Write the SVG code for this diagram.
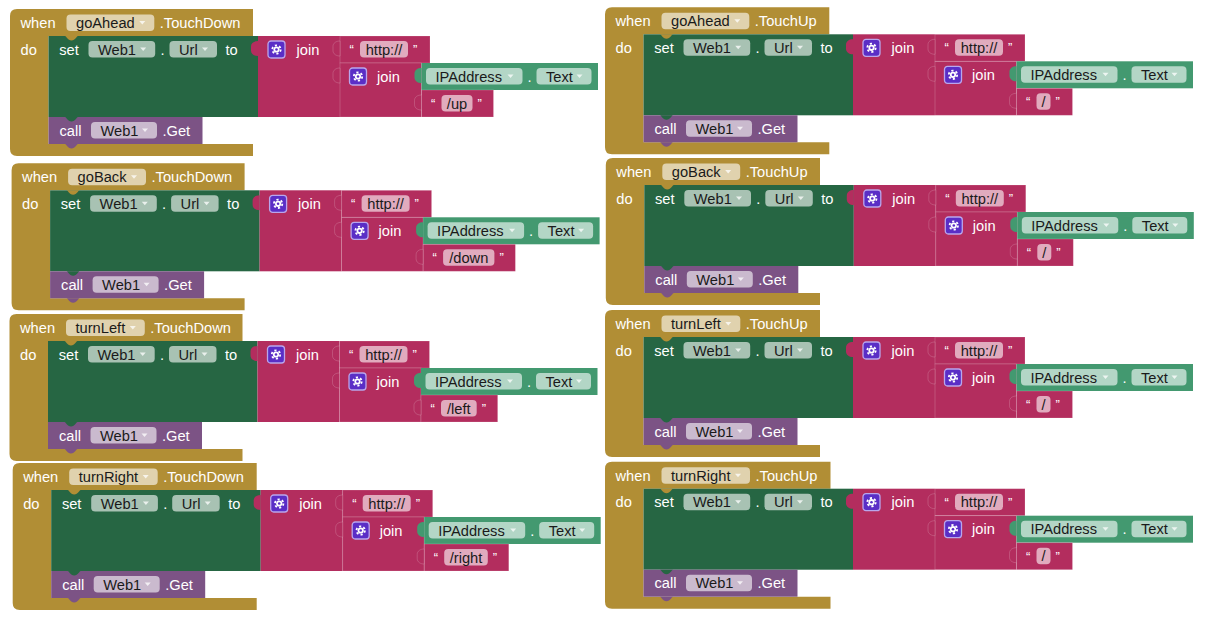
<svg xmlns="http://www.w3.org/2000/svg" xmlns:xlink="http://www.w3.org/1999/xlink" width="1205" height="619" viewBox="0 0 1205 619">
<style>
.ev{fill:#B18E35}.set{fill:#266643}.txt{fill:#B32D5E}.get{fill:#439970}.call{fill:#7C5385}
.pk{stroke:#fff;stroke-opacity:.22;stroke-width:.8}
.f{fill:#fff;fill-opacity:.6}
.l{font-family:"Liberation Sans",Arial,sans-serif;font-size:14.67px;fill:#fff}
.v{font-family:"Liberation Sans",Arial,sans-serif;font-size:14.67px;fill:#1a1a1a}
.q{font-family:"Liberation Sans",Arial,sans-serif;font-size:13px;fill:#fff}
</style>
<defs>
<path id="arr" d="M-3,0h6l-3,3.5z" fill="#fff" fill-opacity=".75"/>
<path id="otab" d="M0,5c-4,0-7,2-7,5.5v4c0,3.5 3,5.5 7,5.5z"/>
<path id="notch" d="M0,0c1.5,0 2.5,4.5 6.5,4.5c4,0 5,-4.5 6.5,-4.5z"/>
<g id="gear">
<rect width="17" height="17" rx="3" fill="#5a2ec6" stroke="#b9a6ec" stroke-width="1.3"/>
<circle cx="8.5" cy="8.5" r="4.2" fill="none" stroke="#fff" stroke-width="1.8" stroke-dasharray="2.2 2.2"/>
<circle cx="8.5" cy="8.5" r="3.1" fill="#fff"/>
<circle cx="8.5" cy="8.5" r="1.3" fill="#5a2ec6"/>
</g>
</defs>
<rect width="1205" height="619" fill="#fff"/>
<g id="connectors"/>

<!-- L1 -->
<g id="goAhead-TouchDown" transform="translate(10,9)">
<path class="ev" d="M0,7Q0,0 7,0H243V27H38.5V135H243V147H7Q0,147 0,140Z"/>
<text class="l" x="10.5" y="19">when</text>
<rect class="f" x="56.5" y="5.5" width="87.8" height="16.5" rx="4"/>
<text class="v" x="66" y="19">goAhead</text>
<use href="#arr" x="132.3" y="12"/>
<text class="l" x="149.8" y="19">.TouchDown</text>
<text class="l" x="10.5" y="45.5">do</text>
<g transform="translate(38.5,27)">
<rect class="set" width="209.5" height="81"/>
<text class="l" x="10.7" y="18.5">set</text>
<rect class="f" x="40" y="5" width="66.7" height="16.5" rx="4"/>
<text class="v" x="49.5" y="18.5">Web1</text>
<use href="#arr" x="94.7" y="11.5"/>
<text class="l" x="112" y="18.5">.</text>
<rect class="f" x="121" y="5" width="47.5" height="16.5" rx="4"/>
<text class="v" x="130.5" y="18.5">Url</text>
<use href="#arr" x="156.5" y="11.5"/>
<text class="l" x="177" y="18.5">to</text>
<g transform="translate(209.5,0)">
<rect class="txt" width="82" height="81"/>
<use href="#otab" class="txt"/>
<use href="#gear" x="10" y="5"/>
<text class="l" x="38.5" y="18.5">join</text>
<g transform="translate(82,0)">
<rect class="txt pk" width="90" height="27"/>
<use href="#otab" class="txt pk"/>
<text class="q" x="9.5" y="18">“</text>
<rect class="f" x="20" y="5" width="48" height="16.5" rx="4"/>
<text class="v" x="44" y="18.5" text-anchor="middle">http://</text>
<text class="q" x="73" y="18">”</text>
</g>
<g transform="translate(82,27)">
<rect class="txt pk" width="81.5" height="54"/>
<use href="#otab" class="txt pk"/>
<use href="#gear" x="9.5" y="5"/>
<text class="l" x="37" y="18.5">join</text>
<g transform="translate(81.5,0)">
<rect class="get" width="176.5" height="27"/>
<use href="#otab" class="get"/>
<rect class="f" x="4.5" y="5" width="96.5" height="16.5" rx="4"/>
<text class="v" x="14" y="18.5">IPAddress</text>
<use href="#arr" x="89" y="11.5"/>
<text class="l" x="106" y="18.5">.</text>
<rect class="f" x="115" y="5" width="55" height="16.5" rx="4"/>
<text class="v" x="124.5" y="18.5">Text</text>
<use href="#arr" x="158" y="11.5"/>
</g>
<g transform="translate(81.5,27)">
<rect class="txt pk" width="72" height="27"/>
<use href="#otab" class="txt pk"/>
<text class="q" x="9.5" y="18">“</text>
<rect class="f" x="20" y="5" width="31" height="16.5" rx="4"/>
<text class="v" x="35.5" y="18.5" text-anchor="middle">/up</text>
<text class="q" x="56" y="18">”</text>
</g>
</g>
</g>
<use href="#notch" class="ev" x="16.5" y="0"/>
</g>
<g transform="translate(38.5,108)">
<rect class="call" width="154" height="27"/>
<use href="#notch" class="set" x="16.5" y="0"/>
<text class="l" x="11" y="18.5">call</text>
<rect class="f" x="42.5" y="5" width="66" height="16.5" rx="4"/>
<text class="v" x="52" y="18.5">Web1</text>
<use href="#arr" x="96.5" y="11.5"/>
<text class="l" x="114" y="18.5">.Get</text>
</g>
<use href="#notch" class="call" x="55" y="135"/>
</g>

<!-- L2 -->
<g id="goBack-TouchDown" transform="translate(11.6,163.3)">
<path class="ev" d="M0,7Q0,0 7,0H233V27H38.5V135H233V147H7Q0,147 0,140Z"/>
<text class="l" x="10.5" y="19">when</text>
<rect class="f" x="56.5" y="5.5" width="77.9" height="16.5" rx="4"/>
<text class="v" x="66" y="19">goBack</text>
<use href="#arr" x="122.4" y="12"/>
<text class="l" x="139.9" y="19">.TouchDown</text>
<text class="l" x="10.5" y="45.5">do</text>
<g transform="translate(38.5,27)">
<rect class="set" width="209.5" height="81"/>
<text class="l" x="10.7" y="18.5">set</text>
<rect class="f" x="40" y="5" width="66.7" height="16.5" rx="4"/>
<text class="v" x="49.5" y="18.5">Web1</text>
<use href="#arr" x="94.7" y="11.5"/>
<text class="l" x="112" y="18.5">.</text>
<rect class="f" x="121" y="5" width="47.5" height="16.5" rx="4"/>
<text class="v" x="130.5" y="18.5">Url</text>
<use href="#arr" x="156.5" y="11.5"/>
<text class="l" x="177" y="18.5">to</text>
<g transform="translate(209.5,0)">
<rect class="txt" width="82" height="81"/>
<use href="#otab" class="txt"/>
<use href="#gear" x="10" y="5"/>
<text class="l" x="38.5" y="18.5">join</text>
<g transform="translate(82,0)">
<rect class="txt pk" width="90" height="27"/>
<use href="#otab" class="txt pk"/>
<text class="q" x="9.5" y="18">“</text>
<rect class="f" x="20" y="5" width="48" height="16.5" rx="4"/>
<text class="v" x="44" y="18.5" text-anchor="middle">http://</text>
<text class="q" x="73" y="18">”</text>
</g>
<g transform="translate(82,27)">
<rect class="txt pk" width="81.5" height="54"/>
<use href="#otab" class="txt pk"/>
<use href="#gear" x="9.5" y="5"/>
<text class="l" x="37" y="18.5">join</text>
<g transform="translate(81.5,0)">
<rect class="get" width="176.5" height="27"/>
<use href="#otab" class="get"/>
<rect class="f" x="4.5" y="5" width="96.5" height="16.5" rx="4"/>
<text class="v" x="14" y="18.5">IPAddress</text>
<use href="#arr" x="89" y="11.5"/>
<text class="l" x="106" y="18.5">.</text>
<rect class="f" x="115" y="5" width="55" height="16.5" rx="4"/>
<text class="v" x="124.5" y="18.5">Text</text>
<use href="#arr" x="158" y="11.5"/>
</g>
<g transform="translate(81.5,27)">
<rect class="txt pk" width="92.3" height="27"/>
<use href="#otab" class="txt pk"/>
<text class="q" x="9.5" y="18">“</text>
<rect class="f" x="20" y="5" width="51.3" height="16.5" rx="4"/>
<text class="v" x="45.65" y="18.5" text-anchor="middle">/down</text>
<text class="q" x="76.3" y="18">”</text>
</g>
</g>
</g>
<use href="#notch" class="ev" x="16.5" y="0"/>
</g>
<g transform="translate(38.5,108)">
<rect class="call" width="154" height="27"/>
<use href="#notch" class="set" x="16.5" y="0"/>
<text class="l" x="11" y="18.5">call</text>
<rect class="f" x="42.5" y="5" width="66" height="16.5" rx="4"/>
<text class="v" x="52" y="18.5">Web1</text>
<use href="#arr" x="96.5" y="11.5"/>
<text class="l" x="114" y="18.5">.Get</text>
</g>
<use href="#notch" class="call" x="55" y="135"/>
</g>

<!-- L3 -->
<g id="turnLeft-TouchDown" transform="translate(9.5,314)">
<path class="ev" d="M0,7Q0,0 7,0H233V27H38.5V135H233V147H7Q0,147 0,140Z"/>
<text class="l" x="10.5" y="19">when</text>
<rect class="f" x="56.5" y="5.5" width="78.8" height="16.5" rx="4"/>
<text class="v" x="66" y="19">turnLeft</text>
<use href="#arr" x="123.3" y="12"/>
<text class="l" x="140.8" y="19">.TouchDown</text>
<text class="l" x="10.5" y="45.5">do</text>
<g transform="translate(38.5,27)">
<rect class="set" width="209.5" height="81"/>
<text class="l" x="10.7" y="18.5">set</text>
<rect class="f" x="40" y="5" width="66.7" height="16.5" rx="4"/>
<text class="v" x="49.5" y="18.5">Web1</text>
<use href="#arr" x="94.7" y="11.5"/>
<text class="l" x="112" y="18.5">.</text>
<rect class="f" x="121" y="5" width="47.5" height="16.5" rx="4"/>
<text class="v" x="130.5" y="18.5">Url</text>
<use href="#arr" x="156.5" y="11.5"/>
<text class="l" x="177" y="18.5">to</text>
<g transform="translate(209.5,0)">
<rect class="txt" width="82" height="81"/>
<use href="#otab" class="txt"/>
<use href="#gear" x="10" y="5"/>
<text class="l" x="38.5" y="18.5">join</text>
<g transform="translate(82,0)">
<rect class="txt pk" width="90" height="27"/>
<use href="#otab" class="txt pk"/>
<text class="q" x="9.5" y="18">“</text>
<rect class="f" x="20" y="5" width="48" height="16.5" rx="4"/>
<text class="v" x="44" y="18.5" text-anchor="middle">http://</text>
<text class="q" x="73" y="18">”</text>
</g>
<g transform="translate(82,27)">
<rect class="txt pk" width="81.5" height="54"/>
<use href="#otab" class="txt pk"/>
<use href="#gear" x="9.5" y="5"/>
<text class="l" x="37" y="18.5">join</text>
<g transform="translate(81.5,0)">
<rect class="get" width="176.5" height="27"/>
<use href="#otab" class="get"/>
<rect class="f" x="4.5" y="5" width="96.5" height="16.5" rx="4"/>
<text class="v" x="14" y="18.5">IPAddress</text>
<use href="#arr" x="89" y="11.5"/>
<text class="l" x="106" y="18.5">.</text>
<rect class="f" x="115" y="5" width="55" height="16.5" rx="4"/>
<text class="v" x="124.5" y="18.5">Text</text>
<use href="#arr" x="158" y="11.5"/>
</g>
<g transform="translate(81.5,27)">
<rect class="txt pk" width="76.7" height="27"/>
<use href="#otab" class="txt pk"/>
<text class="q" x="9.5" y="18">“</text>
<rect class="f" x="20" y="5" width="35.7" height="16.5" rx="4"/>
<text class="v" x="37.85" y="18.5" text-anchor="middle">/left</text>
<text class="q" x="60.7" y="18">”</text>
</g>
</g>
</g>
<use href="#notch" class="ev" x="16.5" y="0"/>
</g>
<g transform="translate(38.5,108)">
<rect class="call" width="154" height="27"/>
<use href="#notch" class="set" x="16.5" y="0"/>
<text class="l" x="11" y="18.5">call</text>
<rect class="f" x="42.5" y="5" width="66" height="16.5" rx="4"/>
<text class="v" x="52" y="18.5">Web1</text>
<use href="#arr" x="96.5" y="11.5"/>
<text class="l" x="114" y="18.5">.Get</text>
</g>
<use href="#notch" class="call" x="55" y="135"/>
</g>

<!-- L4 -->
<g id="turnRight-TouchDown" transform="translate(12.7,463)">
<path class="ev" d="M0,7Q0,0 7,0H244V27H38.5V135H244V147H7Q0,147 0,140Z"/>
<text class="l" x="10.5" y="19">when</text>
<rect class="f" x="56.5" y="5.5" width="88.5" height="16.5" rx="4"/>
<text class="v" x="66" y="19">turnRight</text>
<use href="#arr" x="133" y="12"/>
<text class="l" x="150.5" y="19">.TouchDown</text>
<text class="l" x="10.5" y="45.5">do</text>
<g transform="translate(38.5,27)">
<rect class="set" width="209.5" height="81"/>
<text class="l" x="10.7" y="18.5">set</text>
<rect class="f" x="40" y="5" width="66.7" height="16.5" rx="4"/>
<text class="v" x="49.5" y="18.5">Web1</text>
<use href="#arr" x="94.7" y="11.5"/>
<text class="l" x="112" y="18.5">.</text>
<rect class="f" x="121" y="5" width="47.5" height="16.5" rx="4"/>
<text class="v" x="130.5" y="18.5">Url</text>
<use href="#arr" x="156.5" y="11.5"/>
<text class="l" x="177" y="18.5">to</text>
<g transform="translate(209.5,0)">
<rect class="txt" width="82" height="81"/>
<use href="#otab" class="txt"/>
<use href="#gear" x="10" y="5"/>
<text class="l" x="38.5" y="18.5">join</text>
<g transform="translate(82,0)">
<rect class="txt pk" width="90" height="27"/>
<use href="#otab" class="txt pk"/>
<text class="q" x="9.5" y="18">“</text>
<rect class="f" x="20" y="5" width="48" height="16.5" rx="4"/>
<text class="v" x="44" y="18.5" text-anchor="middle">http://</text>
<text class="q" x="73" y="18">”</text>
</g>
<g transform="translate(82,27)">
<rect class="txt pk" width="81.5" height="54"/>
<use href="#otab" class="txt pk"/>
<use href="#gear" x="9.5" y="5"/>
<text class="l" x="37" y="18.5">join</text>
<g transform="translate(81.5,0)">
<rect class="get" width="176.5" height="27"/>
<use href="#otab" class="get"/>
<rect class="f" x="4.5" y="5" width="96.5" height="16.5" rx="4"/>
<text class="v" x="14" y="18.5">IPAddress</text>
<use href="#arr" x="89" y="11.5"/>
<text class="l" x="106" y="18.5">.</text>
<rect class="f" x="115" y="5" width="55" height="16.5" rx="4"/>
<text class="v" x="124.5" y="18.5">Text</text>
<use href="#arr" x="158" y="11.5"/>
</g>
<g transform="translate(81.5,27)">
<rect class="txt pk" width="84.6" height="27"/>
<use href="#otab" class="txt pk"/>
<text class="q" x="9.5" y="18">“</text>
<rect class="f" x="20" y="5" width="43.6" height="16.5" rx="4"/>
<text class="v" x="41.8" y="18.5" text-anchor="middle">/right</text>
<text class="q" x="68.6" y="18">”</text>
</g>
</g>
</g>
<use href="#notch" class="ev" x="16.5" y="0"/>
</g>
<g transform="translate(38.5,108)">
<rect class="call" width="154" height="27"/>
<use href="#notch" class="set" x="16.5" y="0"/>
<text class="l" x="11" y="18.5">call</text>
<rect class="f" x="42.5" y="5" width="66" height="16.5" rx="4"/>
<text class="v" x="52" y="18.5">Web1</text>
<use href="#arr" x="96.5" y="11.5"/>
<text class="l" x="114" y="18.5">.Get</text>
</g>
<use href="#notch" class="call" x="55" y="135"/>
</g>

<!-- R1 -->
<g id="goAhead-TouchUp" transform="translate(605,7.3)">
<path class="ev" d="M0,7Q0,0 7,0H224.3V27H38.5V135H224.3V147H7Q0,147 0,140Z"/>
<text class="l" x="10.5" y="19">when</text>
<rect class="f" x="56.5" y="5.5" width="87.8" height="16.5" rx="4"/>
<text class="v" x="66" y="19">goAhead</text>
<use href="#arr" x="132.3" y="12"/>
<text class="l" x="149.8" y="19">.TouchUp</text>
<text class="l" x="10.5" y="45.5">do</text>
<g transform="translate(38.5,27)">
<rect class="set" width="209.5" height="81"/>
<text class="l" x="10.7" y="18.5">set</text>
<rect class="f" x="40" y="5" width="66.7" height="16.5" rx="4"/>
<text class="v" x="49.5" y="18.5">Web1</text>
<use href="#arr" x="94.7" y="11.5"/>
<text class="l" x="112" y="18.5">.</text>
<rect class="f" x="121" y="5" width="47.5" height="16.5" rx="4"/>
<text class="v" x="130.5" y="18.5">Url</text>
<use href="#arr" x="156.5" y="11.5"/>
<text class="l" x="177" y="18.5">to</text>
<g transform="translate(209.5,0)">
<rect class="txt" width="82" height="81"/>
<use href="#otab" class="txt"/>
<use href="#gear" x="10" y="5"/>
<text class="l" x="38.5" y="18.5">join</text>
<g transform="translate(82,0)">
<rect class="txt pk" width="90" height="27"/>
<use href="#otab" class="txt pk"/>
<text class="q" x="9.5" y="18">“</text>
<rect class="f" x="20" y="5" width="48" height="16.5" rx="4"/>
<text class="v" x="44" y="18.5" text-anchor="middle">http://</text>
<text class="q" x="73" y="18">”</text>
</g>
<g transform="translate(82,27)">
<rect class="txt pk" width="81.5" height="54"/>
<use href="#otab" class="txt pk"/>
<use href="#gear" x="9.5" y="5"/>
<text class="l" x="37" y="18.5">join</text>
<g transform="translate(81.5,0)">
<rect class="get" width="176.5" height="27"/>
<use href="#otab" class="get"/>
<rect class="f" x="4.5" y="5" width="96.5" height="16.5" rx="4"/>
<text class="v" x="14" y="18.5">IPAddress</text>
<use href="#arr" x="89" y="11.5"/>
<text class="l" x="106" y="18.5">.</text>
<rect class="f" x="115" y="5" width="55" height="16.5" rx="4"/>
<text class="v" x="124.5" y="18.5">Text</text>
<use href="#arr" x="158" y="11.5"/>
</g>
<g transform="translate(81.5,27)">
<rect class="txt pk" width="56" height="27"/>
<use href="#otab" class="txt pk"/>
<text class="q" x="9.5" y="18">“</text>
<rect class="f" x="20" y="5" width="14" height="16.5" rx="4"/>
<text class="v" x="27" y="18.5" text-anchor="middle">/</text>
<text class="q" x="39" y="18">”</text>
</g>
</g>
</g>
<use href="#notch" class="ev" x="16.5" y="0"/>
</g>
<g transform="translate(38.5,108)">
<rect class="call" width="154" height="27"/>
<use href="#notch" class="set" x="16.5" y="0"/>
<text class="l" x="11" y="18.5">call</text>
<rect class="f" x="42.5" y="5" width="66" height="16.5" rx="4"/>
<text class="v" x="52" y="18.5">Web1</text>
<use href="#arr" x="96.5" y="11.5"/>
<text class="l" x="114" y="18.5">.Get</text>
</g>
<use href="#notch" class="call" x="55" y="135"/>
</g>

<!-- R2 -->
<g id="goBack-TouchUp" transform="translate(605.8,158)">
<path class="ev" d="M0,7Q0,0 7,0H214.2V27H38.5V135H214.2V147H7Q0,147 0,140Z"/>
<text class="l" x="10.5" y="19">when</text>
<rect class="f" x="56.5" y="5.5" width="77.9" height="16.5" rx="4"/>
<text class="v" x="66" y="19">goBack</text>
<use href="#arr" x="122.4" y="12"/>
<text class="l" x="139.9" y="19">.TouchUp</text>
<text class="l" x="10.5" y="45.5">do</text>
<g transform="translate(38.5,27)">
<rect class="set" width="209.5" height="81"/>
<text class="l" x="10.7" y="18.5">set</text>
<rect class="f" x="40" y="5" width="66.7" height="16.5" rx="4"/>
<text class="v" x="49.5" y="18.5">Web1</text>
<use href="#arr" x="94.7" y="11.5"/>
<text class="l" x="112" y="18.5">.</text>
<rect class="f" x="121" y="5" width="47.5" height="16.5" rx="4"/>
<text class="v" x="130.5" y="18.5">Url</text>
<use href="#arr" x="156.5" y="11.5"/>
<text class="l" x="177" y="18.5">to</text>
<g transform="translate(209.5,0)">
<rect class="txt" width="82" height="81"/>
<use href="#otab" class="txt"/>
<use href="#gear" x="10" y="5"/>
<text class="l" x="38.5" y="18.5">join</text>
<g transform="translate(82,0)">
<rect class="txt pk" width="90" height="27"/>
<use href="#otab" class="txt pk"/>
<text class="q" x="9.5" y="18">“</text>
<rect class="f" x="20" y="5" width="48" height="16.5" rx="4"/>
<text class="v" x="44" y="18.5" text-anchor="middle">http://</text>
<text class="q" x="73" y="18">”</text>
</g>
<g transform="translate(82,27)">
<rect class="txt pk" width="81.5" height="54"/>
<use href="#otab" class="txt pk"/>
<use href="#gear" x="9.5" y="5"/>
<text class="l" x="37" y="18.5">join</text>
<g transform="translate(81.5,0)">
<rect class="get" width="176.5" height="27"/>
<use href="#otab" class="get"/>
<rect class="f" x="4.5" y="5" width="96.5" height="16.5" rx="4"/>
<text class="v" x="14" y="18.5">IPAddress</text>
<use href="#arr" x="89" y="11.5"/>
<text class="l" x="106" y="18.5">.</text>
<rect class="f" x="115" y="5" width="55" height="16.5" rx="4"/>
<text class="v" x="124.5" y="18.5">Text</text>
<use href="#arr" x="158" y="11.5"/>
</g>
<g transform="translate(81.5,27)">
<rect class="txt pk" width="56" height="27"/>
<use href="#otab" class="txt pk"/>
<text class="q" x="9.5" y="18">“</text>
<rect class="f" x="20" y="5" width="14" height="16.5" rx="4"/>
<text class="v" x="27" y="18.5" text-anchor="middle">/</text>
<text class="q" x="39" y="18">”</text>
</g>
</g>
</g>
<use href="#notch" class="ev" x="16.5" y="0"/>
</g>
<g transform="translate(38.5,108)">
<rect class="call" width="154" height="27"/>
<use href="#notch" class="set" x="16.5" y="0"/>
<text class="l" x="11" y="18.5">call</text>
<rect class="f" x="42.5" y="5" width="66" height="16.5" rx="4"/>
<text class="v" x="52" y="18.5">Web1</text>
<use href="#arr" x="96.5" y="11.5"/>
<text class="l" x="114" y="18.5">.Get</text>
</g>
<use href="#notch" class="call" x="55" y="135"/>
</g>

<!-- R3 -->
<g id="turnLeft-TouchUp" transform="translate(605,310)">
<path class="ev" d="M0,7Q0,0 7,0H215V27H38.5V135H215V147H7Q0,147 0,140Z"/>
<text class="l" x="10.5" y="19">when</text>
<rect class="f" x="56.5" y="5.5" width="78.8" height="16.5" rx="4"/>
<text class="v" x="66" y="19">turnLeft</text>
<use href="#arr" x="123.3" y="12"/>
<text class="l" x="140.8" y="19">.TouchUp</text>
<text class="l" x="10.5" y="45.5">do</text>
<g transform="translate(38.5,27)">
<rect class="set" width="209.5" height="81"/>
<text class="l" x="10.7" y="18.5">set</text>
<rect class="f" x="40" y="5" width="66.7" height="16.5" rx="4"/>
<text class="v" x="49.5" y="18.5">Web1</text>
<use href="#arr" x="94.7" y="11.5"/>
<text class="l" x="112" y="18.5">.</text>
<rect class="f" x="121" y="5" width="47.5" height="16.5" rx="4"/>
<text class="v" x="130.5" y="18.5">Url</text>
<use href="#arr" x="156.5" y="11.5"/>
<text class="l" x="177" y="18.5">to</text>
<g transform="translate(209.5,0)">
<rect class="txt" width="82" height="81"/>
<use href="#otab" class="txt"/>
<use href="#gear" x="10" y="5"/>
<text class="l" x="38.5" y="18.5">join</text>
<g transform="translate(82,0)">
<rect class="txt pk" width="90" height="27"/>
<use href="#otab" class="txt pk"/>
<text class="q" x="9.5" y="18">“</text>
<rect class="f" x="20" y="5" width="48" height="16.5" rx="4"/>
<text class="v" x="44" y="18.5" text-anchor="middle">http://</text>
<text class="q" x="73" y="18">”</text>
</g>
<g transform="translate(82,27)">
<rect class="txt pk" width="81.5" height="54"/>
<use href="#otab" class="txt pk"/>
<use href="#gear" x="9.5" y="5"/>
<text class="l" x="37" y="18.5">join</text>
<g transform="translate(81.5,0)">
<rect class="get" width="176.5" height="27"/>
<use href="#otab" class="get"/>
<rect class="f" x="4.5" y="5" width="96.5" height="16.5" rx="4"/>
<text class="v" x="14" y="18.5">IPAddress</text>
<use href="#arr" x="89" y="11.5"/>
<text class="l" x="106" y="18.5">.</text>
<rect class="f" x="115" y="5" width="55" height="16.5" rx="4"/>
<text class="v" x="124.5" y="18.5">Text</text>
<use href="#arr" x="158" y="11.5"/>
</g>
<g transform="translate(81.5,27)">
<rect class="txt pk" width="56" height="27"/>
<use href="#otab" class="txt pk"/>
<text class="q" x="9.5" y="18">“</text>
<rect class="f" x="20" y="5" width="14" height="16.5" rx="4"/>
<text class="v" x="27" y="18.5" text-anchor="middle">/</text>
<text class="q" x="39" y="18">”</text>
</g>
</g>
</g>
<use href="#notch" class="ev" x="16.5" y="0"/>
</g>
<g transform="translate(38.5,108)">
<rect class="call" width="154" height="27"/>
<use href="#notch" class="set" x="16.5" y="0"/>
<text class="l" x="11" y="18.5">call</text>
<rect class="f" x="42.5" y="5" width="66" height="16.5" rx="4"/>
<text class="v" x="52" y="18.5">Web1</text>
<use href="#arr" x="96.5" y="11.5"/>
<text class="l" x="114" y="18.5">.Get</text>
</g>
<use href="#notch" class="call" x="55" y="135"/>
</g>

<!-- R4 -->
<g id="turnRight-TouchUp" transform="translate(605,461.7)">
<path class="ev" d="M0,7Q0,0 7,0H225.5V27H38.5V135H225.5V147H7Q0,147 0,140Z"/>
<text class="l" x="10.5" y="19">when</text>
<rect class="f" x="56.5" y="5.5" width="88.5" height="16.5" rx="4"/>
<text class="v" x="66" y="19">turnRight</text>
<use href="#arr" x="133" y="12"/>
<text class="l" x="150.5" y="19">.TouchUp</text>
<text class="l" x="10.5" y="45.5">do</text>
<g transform="translate(38.5,27)">
<rect class="set" width="209.5" height="81"/>
<text class="l" x="10.7" y="18.5">set</text>
<rect class="f" x="40" y="5" width="66.7" height="16.5" rx="4"/>
<text class="v" x="49.5" y="18.5">Web1</text>
<use href="#arr" x="94.7" y="11.5"/>
<text class="l" x="112" y="18.5">.</text>
<rect class="f" x="121" y="5" width="47.5" height="16.5" rx="4"/>
<text class="v" x="130.5" y="18.5">Url</text>
<use href="#arr" x="156.5" y="11.5"/>
<text class="l" x="177" y="18.5">to</text>
<g transform="translate(209.5,0)">
<rect class="txt" width="82" height="81"/>
<use href="#otab" class="txt"/>
<use href="#gear" x="10" y="5"/>
<text class="l" x="38.5" y="18.5">join</text>
<g transform="translate(82,0)">
<rect class="txt pk" width="90" height="27"/>
<use href="#otab" class="txt pk"/>
<text class="q" x="9.5" y="18">“</text>
<rect class="f" x="20" y="5" width="48" height="16.5" rx="4"/>
<text class="v" x="44" y="18.5" text-anchor="middle">http://</text>
<text class="q" x="73" y="18">”</text>
</g>
<g transform="translate(82,27)">
<rect class="txt pk" width="81.5" height="54"/>
<use href="#otab" class="txt pk"/>
<use href="#gear" x="9.5" y="5"/>
<text class="l" x="37" y="18.5">join</text>
<g transform="translate(81.5,0)">
<rect class="get" width="176.5" height="27"/>
<use href="#otab" class="get"/>
<rect class="f" x="4.5" y="5" width="96.5" height="16.5" rx="4"/>
<text class="v" x="14" y="18.5">IPAddress</text>
<use href="#arr" x="89" y="11.5"/>
<text class="l" x="106" y="18.5">.</text>
<rect class="f" x="115" y="5" width="55" height="16.5" rx="4"/>
<text class="v" x="124.5" y="18.5">Text</text>
<use href="#arr" x="158" y="11.5"/>
</g>
<g transform="translate(81.5,27)">
<rect class="txt pk" width="56" height="27"/>
<use href="#otab" class="txt pk"/>
<text class="q" x="9.5" y="18">“</text>
<rect class="f" x="20" y="5" width="14" height="16.5" rx="4"/>
<text class="v" x="27" y="18.5" text-anchor="middle">/</text>
<text class="q" x="39" y="18">”</text>
</g>
</g>
</g>
<use href="#notch" class="ev" x="16.5" y="0"/>
</g>
<g transform="translate(38.5,108)">
<rect class="call" width="154" height="27"/>
<use href="#notch" class="set" x="16.5" y="0"/>
<text class="l" x="11" y="18.5">call</text>
<rect class="f" x="42.5" y="5" width="66" height="16.5" rx="4"/>
<text class="v" x="52" y="18.5">Web1</text>
<use href="#arr" x="96.5" y="11.5"/>
<text class="l" x="114" y="18.5">.Get</text>
</g>
<use href="#notch" class="call" x="55" y="135"/>
</g>
</svg>
